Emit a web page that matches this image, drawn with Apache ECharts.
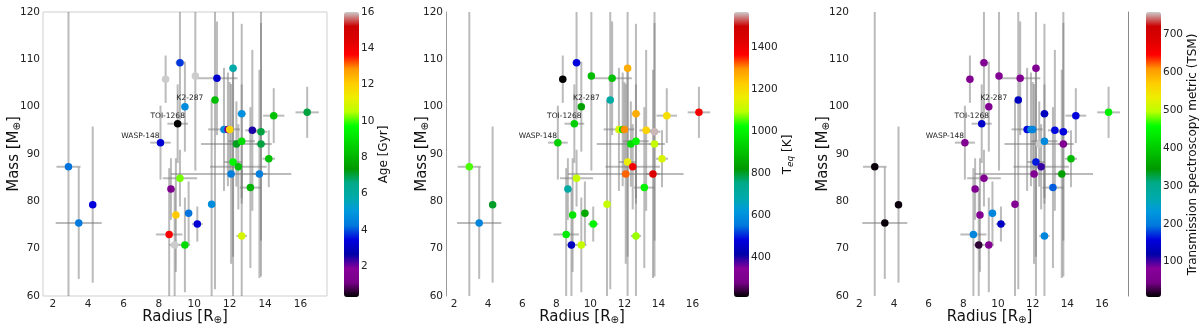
<!DOCTYPE html>
<html>
<head>
<meta charset="utf-8">
<script src="https://cdn.jsdelivr.net/npm/echarts@6/dist/echarts.min.js"></script>
<style>
  html, body { margin: 0; padding: 0; background: #fff; }
  #main { width: 1200px; height: 328px; }
</style>
</head>
<body>
<div id="main"></div>
<script>
// planet radius [R_earth], mass [M_earth] and their errors
var radius = [2.89, 3.47, 4.26, 8.09, 9.06, 9.47, 9.19, 8.38, 10.06, 11.28,
  12.19, 11.17, 12.68, 14.49, 16.38, 11.68, 11.9, 12.0, 13.28, 13.77,
  12.38, 12.68, 13.77, 14.21, 12.19, 12.49, 12.08, 13.68, 9.19, 13.17,
  8.68, 10.98, 9.68, 8.96, 10.17, 8.58, 8.89, 9.47, 12.68];
var mass = [87.3, 75.4, 79.3, 92.4, 96.4, 100.0, 109.3, 105.8, 106.5, 106.0,
  108.1, 101.4, 98.5, 98.1, 98.8, 95.2, 95.2, 95.2, 95.0, 94.7,
  92.1, 92.7, 92.1, 89.0, 88.3, 87.3, 85.8, 85.8, 84.9, 82.9,
  82.6, 79.4, 77.5, 77.1, 75.2, 73.0, 70.8, 70.8, 72.7];
var radiusErr = [0.68, 1.3, 0.1, 0.58, 0.58, 0.15, 0.25, 0.1, 0.1, 1.16,
  0.2, 0.1, 0.25, 0.6, 0.66, 0.9, 0.2, 0.2, 0.4, 0.35,
  2.0, 0.75, 0.3, 0.35, 0.5, 1.6, 3.4, 0.4, 0.97, 0.6,
  0.1, 0.15, 0.2, 0.15, 0.3, 0.75, 0.3, 0.3, 0.3];
var massErr = [33, 11.8, 16.5, 7.8, 8.3, 9.5, 12, 5, 20, 12,
  50, 40, 19, 5.8, 5.4, 13, 12, 10, 17, 23,
  9, 12, 28, 6, 20, 9, 19, 22, 6, 17,
  6.5, 22, 6.7, 12, 3.7, 14, 12, 10, 14];
var age = [4.2, 4.3, 3.4, 3.3, 0.3, 4.7, 3.8, 16, 16, 3.2,
  5.8, 8.2, 4.8, 8.3, 7.0, 4.7, 1.5, 11.9, 2.5, 7.0,
  7.2, 8.9, 7.0, 8.3, 9.5, 8.3, 4.4, 4.4, 10.2, 8.0,
  1.4, 4.7, 4.2, 12.1, 3.3, 13.8, 16, 8.9, 10.9];
var teq = [1050, 580, 800, 930, 930, 835, 480, 210, 890, 900,
  1270, 700, 1270, 1190, 1380, 1130, 960, 1300, 1215, 1560,
  955, 1000, 1105, 1130, 1160, 1390, 1320, 1430, 1105, 1000,
  700, 1105, 850, 970, 1000, 985, 440, 1105, 1080];
var tsm = [10, 10, 10, 67, 142, 67, 67, 67, 67, 67,
  67, 135, 135, 157, 443, 160, 210, 210, 160, 155,
  759, 215, 67, 383, 165, 105, 67, 353, 67, 187,
  67, 67, 210, 67, 140, 210, 22, 67, 210];
var names = ['', '', '', 'WASP-148', 'TOI-1268', 'K2-287', '', '', '', '',
  '', '', '', '', '', '', '', '', '', '',
  '', '', '', '', '', '', '', '', '', '',
  '', '', '', '', '', '', '', '', ''];

var radiusTicks = [2, 4, 6, 8, 10, 12, 14, 16];
var ageTicks = [2, 4, 6, 8, 10, 12, 14, 16];
var teqTicks = [400, 600, 800, 1000, 1200, 1400];
var tsmTicks = [100, 200, 300, 400, 500, 600, 700];

// nipy_spectral
var nipy = ['#000000', '#770088', '#880099', '#0000aa', '#0000dd', '#0077dd',
  '#0099dd', '#00aaaa', '#00aa88', '#009900', '#00bb00', '#00dd00', '#00ff00',
  '#bbff00', '#eeee00', '#ffcc00', '#ff9900', '#ff0000', '#dd0000', '#cc0000', '#cccccc'];

var FONT = 'DejaVu Sans';
var chart = echarts.init(document.getElementById('main'), null, { renderer: 'canvas' });

var panels = [
  { left: 43, width: 284, xmin: 1.45, lmargin: 3, ngap: 21, cb: 344, vals: age, min: 0.3, max: 16, ticks: ageTicks, label: 'Age [Gyr]', gap: 18 },
  { left: 446, width: 272, xmin: 1.52, lmargin: 3, ngap: 16, cb: 734, vals: teq, min: 210, max: 1567, ticks: teqTicks, label: 'T{sub|eq} [K]', gap: 30 },
  { left: 851, width: 277, xmin: 1.52, lmargin: 2, ngap: 20, cb: 1146, vals: tsm, min: 7, max: 759, ticks: tsmTicks, label: 'Transmission spectroscopy metric (TSM)', gap: 22 }
];
var TOP = 12, H = 284;

var labelPos = {
  'WASP-148': [-20, 6],
  'TOI-1268': [-10, 5],
  'K2-287': [5, 4]
};

function errorBars(params, api) {
  var x = api.value(0), y = api.value(1), dx = api.value(2), dy = api.value(3);
  var l = api.coord([x - dx, y]), r = api.coord([x + dx, y]);
  var t = api.coord([x, y + dy]), b = api.coord([x, y - dy]);
  var st = { stroke: 'rgba(120,120,120,0.5)', lineWidth: 2 };
  return {
    type: 'group',
    children: [
      { type: 'line', shape: { x1: l[0], y1: l[1], x2: r[0], y2: r[1] }, style: st },
      { type: 'line', shape: { x1: t[0], y1: t[1], x2: b[0], y2: b[1] }, style: st }
    ]
  };
}

var grid = [], xAxis = [], yAxis = [], series = [], visualMap = [];
var subRich = {
  s: { fontSize: 10, fontFamily: FONT, color: '#111', verticalAlign: 'bottom', padding: [0, 0, 0, 0] },
  sub: { fontSize: 9, fontStyle: 'italic', fontFamily: FONT, color: '#111', padding: [6, 0, 0, 0] }
};

panels.forEach(function (p, i) {
  grid.push({
    left: p.left, top: TOP, width: p.width, height: H, outerBoundsMode: 'none',
    show: i === 0, borderColor: '#cfcfcf', borderWidth: 1, backgroundColor: 'transparent'
  });
  xAxis.push({
    gridIndex: i, type: 'value', min: p.xmin, max: 17.5,
    axisLine: { show: false }, axisTick: { show: false }, splitLine: { show: false },
    axisLabel: { customValues: radiusTicks, fontSize: 10.5, fontFamily: FONT, color: '#222', margin: 3 },
    name: 'Radius [R{s|⊕}]', nameLocation: 'middle', nameGap: 14, nameMoveOverlap: false,
    nameTextStyle: { fontSize: 15, fontFamily: FONT, color: '#111', rich: subRich }
  });
  yAxis.push({
    gridIndex: i, type: 'value', min: 60, max: 120, interval: 10,
    axisLine: { show: i === 1, lineStyle: { color: '#9a9a9a', width: 1 } },
    axisTick: { show: false }, splitLine: { show: false },
    axisLabel: { fontSize: 10.5, fontFamily: FONT, color: '#222', margin: p.lmargin },
    name: 'Mass [M{s|⊕}]', nameLocation: 'middle', nameGap: p.ngap, nameRotate: 90,
    nameMoveOverlap: false,
    nameTextStyle: { fontSize: 15, fontFamily: FONT, color: '#111', rich: subRich }
  });
});

// colorbar grids
panels.forEach(function (p, i) {
  grid.push({ left: p.cb, top: TOP, width: 15, height: H + 1, show: false, outerBoundsMode: 'none' });
  xAxis.push({ gridIndex: 3 + i, type: 'value', min: 0, max: 1, show: false });
  yAxis.push({
    gridIndex: 3 + i, type: 'value', position: 'right', min: p.min, max: p.max,
    axisLine: { show: false }, splitLine: { show: false },
    axisTick: { show: false },
    axisLabel: {
      customValues: p.ticks, fontSize: 10.5, fontFamily: FONT, color: '#222', margin: 2,
      formatter: function (v) { return String(v); }
    },
    name: p.label, nameLocation: 'middle', nameGap: p.gap, nameRotate: 90,
    nameTextStyle: { fontSize: 12, fontFamily: FONT, color: '#111', rich: subRich }
  });
});

// right spine of the third panel
yAxis.push({
  gridIndex: 2, type: 'value', position: 'right', min: 60, max: 120,
  axisLine: { show: true, lineStyle: { color: '#8a8a8a', width: 1 } },
  axisTick: { show: false }, axisLabel: { show: false }, splitLine: { show: false }
});

panels.forEach(function (p, i) {
  var errData = radius.map(function (r, k) {
    return [r, mass[k], radiusErr[k], massErr[k]];
  });
  series.push({
    type: 'custom', xAxisIndex: i, yAxisIndex: i, clip: true, silent: true,
    renderItem: errorBars, data: errData, z: 1
  });
  var pts = radius.map(function (r, k) {
    var item = { value: [r, mass[k], p.vals[k]], name: names[k] };
    if (names[k]) {
      item.label = {
        show: true, position: 'top', formatter: names[k],
        offset: labelPos[names[k]], fontSize: 7.5, fontFamily: FONT, color: '#222'
      };
    }
    return item;
  });
  series.push({
    type: 'scatter', xAxisIndex: i, yAxisIndex: i, symbolSize: 7.5,
    data: pts, z: 3, silent: true,
    itemStyle: { opacity: 1 }
  });
  visualMap.push({
    type: 'continuous', seriesIndex: 2 * i + 1, dimension: 2,
    min: p.min, max: p.max, inRange: { color: nipy },
    calculable: false, hoverLink: false, realtime: false,
    left: p.cb, top: TOP, itemWidth: 15, itemHeight: H + 1, padding: 0,
    text: null, showLabel: false, orient: 'vertical'
  });
});

chart.setOption({
  animation: false,
  backgroundColor: '#fff',
  textStyle: { fontFamily: FONT },
  grid: grid,
  xAxis: xAxis,
  yAxis: yAxis,
  visualMap: visualMap,
  series: series
});
</script>
</body>
</html>
